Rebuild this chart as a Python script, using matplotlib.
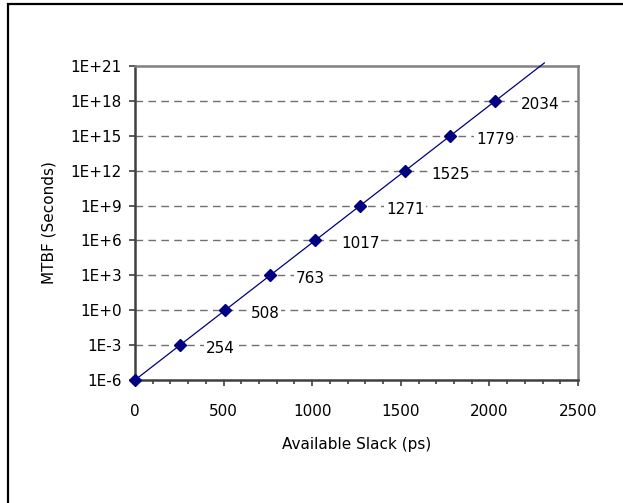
import numpy as np
import matplotlib
matplotlib.use("Agg")
import matplotlib.pyplot as plt
from matplotlib.patches import Rectangle
from matplotlib.ticker import FixedLocator, MultipleLocator

# ---- data ----
slack_ps = [0, 254, 508, 763, 1017, 1271, 1525, 1779, 2034]
mtbf_exp = [-6, -3, 0, 3, 6, 9, 12, 15, 18]
point_labels = ["", "254", "508", "763", "1017", "1271", "1525", "1779", "2034"]
y_tick_exp = [-6, -3, 0, 3, 6, 9, 12, 15, 18, 21]
y_tick_labels = ["1E-6", "1E-3", "1E+0", "1E+3", "1E+6", "1E+9", "1E+12", "1E+15", "1E+18", "1E+21"]
x_ticks = [0, 500, 1000, 1500, 2000, 2500]
trend_x_end = 2310

plt.rcParams['font.family'] = ['DejaVu Sans']
plt.rcParams['lines.scale_dashes'] = False

FS = 11

W, H = 623, 503
fig = plt.figure(figsize=(W / 100, H / 100), dpi=100)

# outer border (only left and top visible)
fig.patches.append(Rectangle((8 / W, -0.1), 1.2, 1 - 4 / H + 0.1, transform=fig.transFigure,
                             fill=False, edgecolor='black', linewidth=1.6))

ax = fig.add_axes([135 / W, 1 - 380 / H, (578 - 135) / W, (380 - 66) / H])

x = np.array(slack_ps, dtype=float)
y = 10.0 ** np.array(mtbf_exp, dtype=float)

# exponential trendline fitted to the points
slope, icpt = np.polyfit(x, np.log10(y), 1)
tx = np.linspace(0, trend_x_end, 50)
ax.plot(tx, 10 ** (slope * tx + icpt), color='#000080', lw=0.9, clip_on=False, zorder=3)
ax.plot(x, y, linestyle='none', marker='D', color='#000080', markersize=6.5, clip_on=False, zorder=4)

for xi, yi, lab in zip(x, y, point_labels):
    if lab:
        ax.annotate(lab, (xi, yi), xytext=(18.5, -2.5), textcoords='offset points',
                    ha='left', va='center', fontsize=FS, color='black', zorder=5,
                    bbox=dict(boxstyle='square,pad=0.1', fc='white', ec='none'))

ax.set_yscale('log')
ax.set_ylim(1e-6, 1e21)
ax.set_xlim(0, 2500)
ax.yaxis.set_major_locator(FixedLocator([10.0 ** e for e in y_tick_exp]))
ax.yaxis.set_minor_locator(FixedLocator([]))
ax.set_yticklabels(y_tick_labels)
ax.set_xticks(x_ticks)
ax.set_xticklabels([str(v) for v in x_ticks])
ax.xaxis.set_minor_locator(MultipleLocator(100))

for e in y_tick_exp[1:-1]:
    ax.axhline(10.0 ** e, color='#707070', lw=1.0, dashes=(5.5, 3.8), zorder=1)

ax.tick_params(axis='both', which='major', direction='out', length=4.5, width=1.2,
               color='#404040', labelsize=FS)
ax.tick_params(axis='x', which='major', pad=13)
ax.tick_params(axis='y', which='major', pad=5)
ax.tick_params(axis='x', which='minor', direction='out', length=3, width=1.2, color='#404040')

for s in ['left', 'bottom']:
    ax.spines[s].set_color('#404040')
    ax.spines[s].set_linewidth(1.8)
for s in ['top', 'right']:
    ax.spines[s].set_color('#808080')
    ax.spines[s].set_linewidth(1.8)

ax.set_xlabel('Available Slack (ps)', fontsize=FS, labelpad=13)
ax.set_ylabel('MTBF (Seconds)', fontsize=FS, labelpad=10)

fig.savefig('out.png', dpi=100)
